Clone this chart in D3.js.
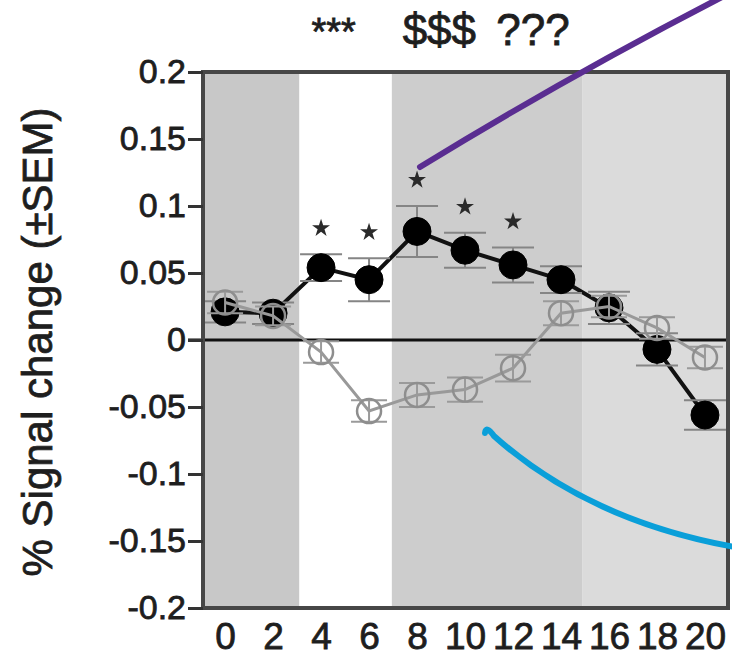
<!DOCTYPE html>
<html>
<head>
<meta charset="utf-8">
<script src="https://cdn.jsdelivr.net/npm/d3@7/dist/d3.min.js"></script>
<style>
  html, body { margin: 0; padding: 0; background: #fff; }
  svg { display: block; }
  text { font-family: "Liberation Sans", Arial, Helvetica, sans-serif; fill: #1e1e1e; stroke: #1e1e1e; stroke-width: 0.8px; }
</style>
</head>
<body>
<svg id="chart" width="732" height="671"></svg>
<script>
// ---- data ----
const timePoints = [0, 2, 4, 6, 8, 10, 12, 14, 16, 18, 20];
const blackValues = [0.021, 0.020, 0.054, 0.045, 0.081, 0.067, 0.056, 0.045, 0.024, -0.007, -0.056];
const blackSem    = [0.008, 0.008, 0.010, 0.016, 0.019, 0.013, 0.013, 0.010, 0.012, 0.012, 0.011];
const grayValues  = [0.028, 0.018, -0.009, -0.053, -0.041, -0.037, -0.021, 0.020, 0.025, 0.009, -0.013];
const graySem     = [0.008, 0.007, 0.008, 0.008, 0.009, 0.009, 0.010, 0.009, 0.008, 0.008, 0.008];
const sigTimes = [4, 6, 8, 10, 12];
const yTicks = [0.2, 0.15, 0.1, 0.05, 0, -0.05, -0.1, -0.15, -0.2];
const xTicks = [0, 2, 4, 6, 8, 10, 12, 14, 16, 18, 20];
const bands = [
  {x0: -0.92, x1: 3.1,  color: "#c8c8c8"},
  {x0: 3.1,   x1: 6.95, color: "#ffffff"},
  {x0: 6.95,  x1: 14.9, color: "#cdcdcd"},
  {x0: 14.9,  x1: 20.96, color: "#dbdbdb"}
];
const topLabels = [
  {text: "***", t: 3.6},
  {text: "$$$", t: 7.4},
  {text: "???", t: 11.3}
];

// ---- scales ----
const L = 203, R = 728, T = 72, B = 608;
const x = d3.scaleLinear().domain([-0.92, 20.96]).range([L, R]);
const y = d3.scaleLinear().domain([-0.2, 0.2]).range([B, T]);

const svg = d3.select("#chart");

// background bands
svg.append("g").selectAll("rect").data(bands).join("rect")
  .attr("x", d => x(d.x0)).attr("width", d => x(d.x1) - x(d.x0))
  .attr("y", T).attr("height", B - T)
  .attr("fill", d => d.color);

// zero line
svg.append("line")
  .attr("x1", L - 15).attr("x2", R)
  .attr("y1", y(0)).attr("y2", y(0))
  .attr("stroke", "#111").attr("stroke-width", 3);

const blackData = timePoints.map((t, i) => ({t, v: blackValues[i], s: blackSem[i]}));
const grayData  = timePoints.map((t, i) => ({t, v: grayValues[i],  s: graySem[i]}));

function drawSeries(data, opt) {
  const g = svg.append("g");
  g.append("path").datum(data)
    .attr("d", d3.line().x(d => x(d.t)).y(d => y(d.v)))
    .attr("fill", "none").attr("stroke", opt.line).attr("stroke-width", opt.lw);
  const eb = g.append("g").selectAll("g").data(data).join("g");
  eb.append("line")
    .attr("x1", d => x(d.t)).attr("x2", d => x(d.t))
    .attr("y1", d => y(d.v - d.s)).attr("y2", d => y(d.v + d.s))
    .attr("stroke", opt.err).attr("stroke-width", 2);
  [-1, 1].forEach(sg => {
    eb.append("line")
      .attr("x1", d => x(d.t) - opt.cap).attr("x2", d => x(d.t) + opt.cap)
      .attr("y1", d => y(d.v + sg * d.s)).attr("y2", d => y(d.v + sg * d.s))
      .attr("stroke", opt.err).attr("stroke-width", 2);
  });
  g.append("g").selectAll("circle").data(data).join("circle")
    .attr("cx", d => x(d.t)).attr("cy", d => y(d.v))
    .attr("r", opt.r)
    .attr("fill", opt.fill).attr("stroke", opt.stroke).attr("stroke-width", opt.sw);
}

drawSeries(blackData, {line: "#111", lw: 4, err: "#858585", cap: 21, r: 14, fill: "#000", stroke: "#000", sw: 1});
drawSeries(grayData,  {line: "#999", lw: 3, err: "#9a9a9a", cap: 18, r: 12, fill: "none", stroke: "#8e8e8e", sw: 2.5});

// significance stars
svg.append("g").selectAll("path").data(blackData.filter(d => sigTimes.includes(d.t))).join("path")
  .attr("d", d3.symbol().type(d3.symbolStar).size(100))
  .attr("transform", d => `translate(${x(d.t)},${y(d.v + d.s) - 26})`)
  .attr("fill", "#2a2a2a");

// frame
svg.append("rect")
  .attr("x", L).attr("y", T).attr("width", R - L).attr("height", B - T)
  .attr("fill", "none").attr("stroke", "#474747").attr("stroke-width", 4);

// y axis
const yAxis = svg.append("g").attr("transform", `translate(${L},0)`)
  .call(d3.axisLeft(y).tickValues(yTicks).tickSize(15).tickPadding(2)
        .tickFormat(d => String(+d.toFixed(2))));
yAxis.select(".domain").remove();
yAxis.selectAll(".tick line").attr("stroke", "#333").attr("stroke-width", 3);
yAxis.selectAll(".tick text").attr("font-size", 34).attr("fill", "#1e1e1e")
  .attr("font-family", "Liberation Sans, Arial, sans-serif");

// x axis
const xAxis = svg.append("g").attr("transform", `translate(0,${B})`)
  .call(d3.axisBottom(x).tickValues(xTicks).tickSize(0).tickPadding(15));
xAxis.select(".domain").remove();
xAxis.selectAll(".tick text").attr("font-size", 37).attr("fill", "#1e1e1e")
  .attr("font-family", "Liberation Sans, Arial, sans-serif");

// y title
svg.append("text")
  .attr("transform", "translate(52,342) rotate(-90)")
  .attr("text-anchor", "middle")
  .attr("font-size", 42)
  .text("% Signal change (±SEM)");

// top labels
svg.append("g").selectAll("text").data(topLabels).join("text")
  .attr("x", d => x(d.t)).attr("y", 45)
  .attr("font-size", d => d.text === "***" ? 38 : 44)
  .text(d => d.text);

// annotation strokes
svg.append("path")
  .attr("d", "M420,167 Q565,78 724,-4")
  .attr("fill", "none").attr("stroke", "#5a2d91").attr("stroke-width", 6).attr("stroke-linecap", "round");
svg.append("path")
  .attr("d", "M485,433 Q486,425 494,436 Q590,522 740,548")
  .attr("fill", "none").attr("stroke", "#0a9fd9").attr("stroke-width", 6).attr("stroke-linecap", "round");
</script>
</body>
</html>
